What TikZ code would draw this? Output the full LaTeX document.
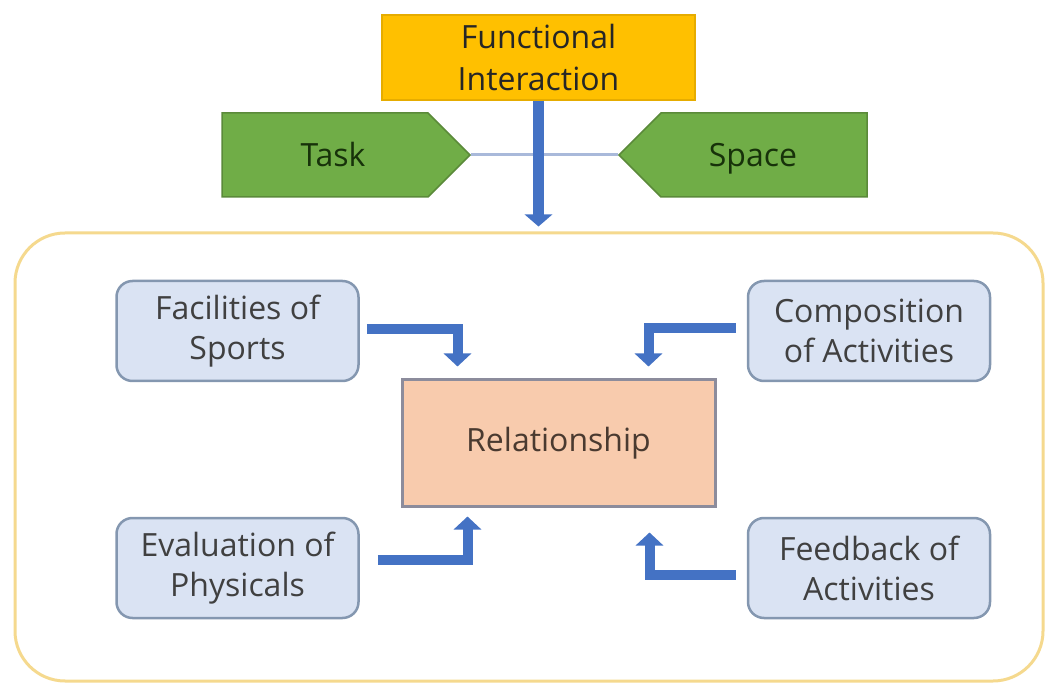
\documentclass[tikz,border=0pt]{standalone}
\usepackage{fontspec}
\setmainfont{Open Sans}
\usetikzlibrary{arrows.meta,shapes.symbols}

\definecolor{fiyellow}{HTML}{FFC000}
\definecolor{fiedge}{HTML}{E6AC00}
\definecolor{figreen}{HTML}{70AD47}
\definecolor{fgedge}{HTML}{5B8A3A}
\definecolor{tagtext}{HTML}{17320A}
\definecolor{boxfill}{HTML}{DAE3F3}
\definecolor{boxedge}{HTML}{8497B0}
\definecolor{relfill}{HTML}{F8CBAD}
\definecolor{reledge}{HTML}{8C8C9C}
\definecolor{reltext}{HTML}{4A3A30}
\definecolor{flowblue}{HTML}{4472C4}
\definecolor{linkline}{HTML}{A9B9DA}
\definecolor{frameedge}{HTML}{F5D98E}

\tikzset{
  lbl/.style={font=\fontsize{32}{40}\selectfont, align=center, inner sep=0pt},
  topbox/.style={lbl, font=\fontsize{32}{42}\selectfont, rectangle, fill=fiyellow,
    draw=fiedge, line width=1.5pt, minimum width=313pt, minimum height=85pt,
    text=black!85},
  tagshape/.style={lbl, signal, fill=figreen, draw=fgedge, line width=1.5pt,
    minimum width=248pt, minimum height=84pt, text=tagtext,
    text height=23pt, text depth=0pt},
  factor/.style={lbl, rectangle, rounded corners=16pt, fill=boxfill, draw=boxedge,
    line width=2.5pt, minimum width=242pt, minimum height=100pt, text=black!75},
  relbox/.style={lbl, rectangle, fill=relfill, draw=reledge, line width=3pt,
    minimum width=313pt, minimum height=126pt, text=reltext},
  elbow/.style={draw=flowblue, line width=10pt, line join=miter,
    -{Triangle[width=27pt,length=13pt]}},
}

\begin{document}
\begin{tikzpicture}[x=1pt,y=-1pt]
\useasboundingbox (0,0) rectangle (1050,684);

% outer frame
\node[draw=frameedge, line width=3pt, rounded corners=50pt,
  minimum width=1028pt, minimum height=448pt] (frame) at (529,457) {};

% top of the hierarchy
\node[topbox] (fi) at (538.5,57.5) {Functional\\Interaction};
\node[tagshape, signal to=east] (task) at (325,155) {\hspace*{16pt}Task};
\node[tagshape, signal to=west] (space) at (764,155) {Space\hspace*{22pt}};
\draw[linkline, line width=3pt] (task.east) -- (space.west);
\draw[draw=flowblue, line width=11pt, -{Triangle[width=27pt,length=12pt]},
  shorten >=5pt] (fi.south) -- (fi.south |- frame.north);

% centre and the four factors
\node[relbox] (rel) at (558.5,443) {Relationship};
\node[factor] (fac) at (237.5,331) {Facilities of\\Sports};
\node[factor] (comp) at (869,331) {Composition\\of Activities};
\node[factor] (eval) at (237.5,568) {Evaluation of\\Physicals};
\node[factor] (feed) at (869,568) {Feedback of\\Activities};

\draw[elbow] ([xshift=7pt,yshift=2pt]fac.east) -| ([xshift=-101pt,yshift=12pt]rel.north);
\draw[elbow] ([xshift=-11pt,yshift=3pt]comp.west) -| ([xshift=90pt,yshift=12pt]rel.north);
\draw[elbow] ([xshift=18pt,yshift=8pt]eval.east) -| ([xshift=-91pt,yshift=-9pt]rel.south);
\draw[elbow] ([xshift=-11pt,yshift=-7pt]feed.west) -| ([xshift=91pt,yshift=-25pt]rel.south);
\end{tikzpicture}
\end{document}
